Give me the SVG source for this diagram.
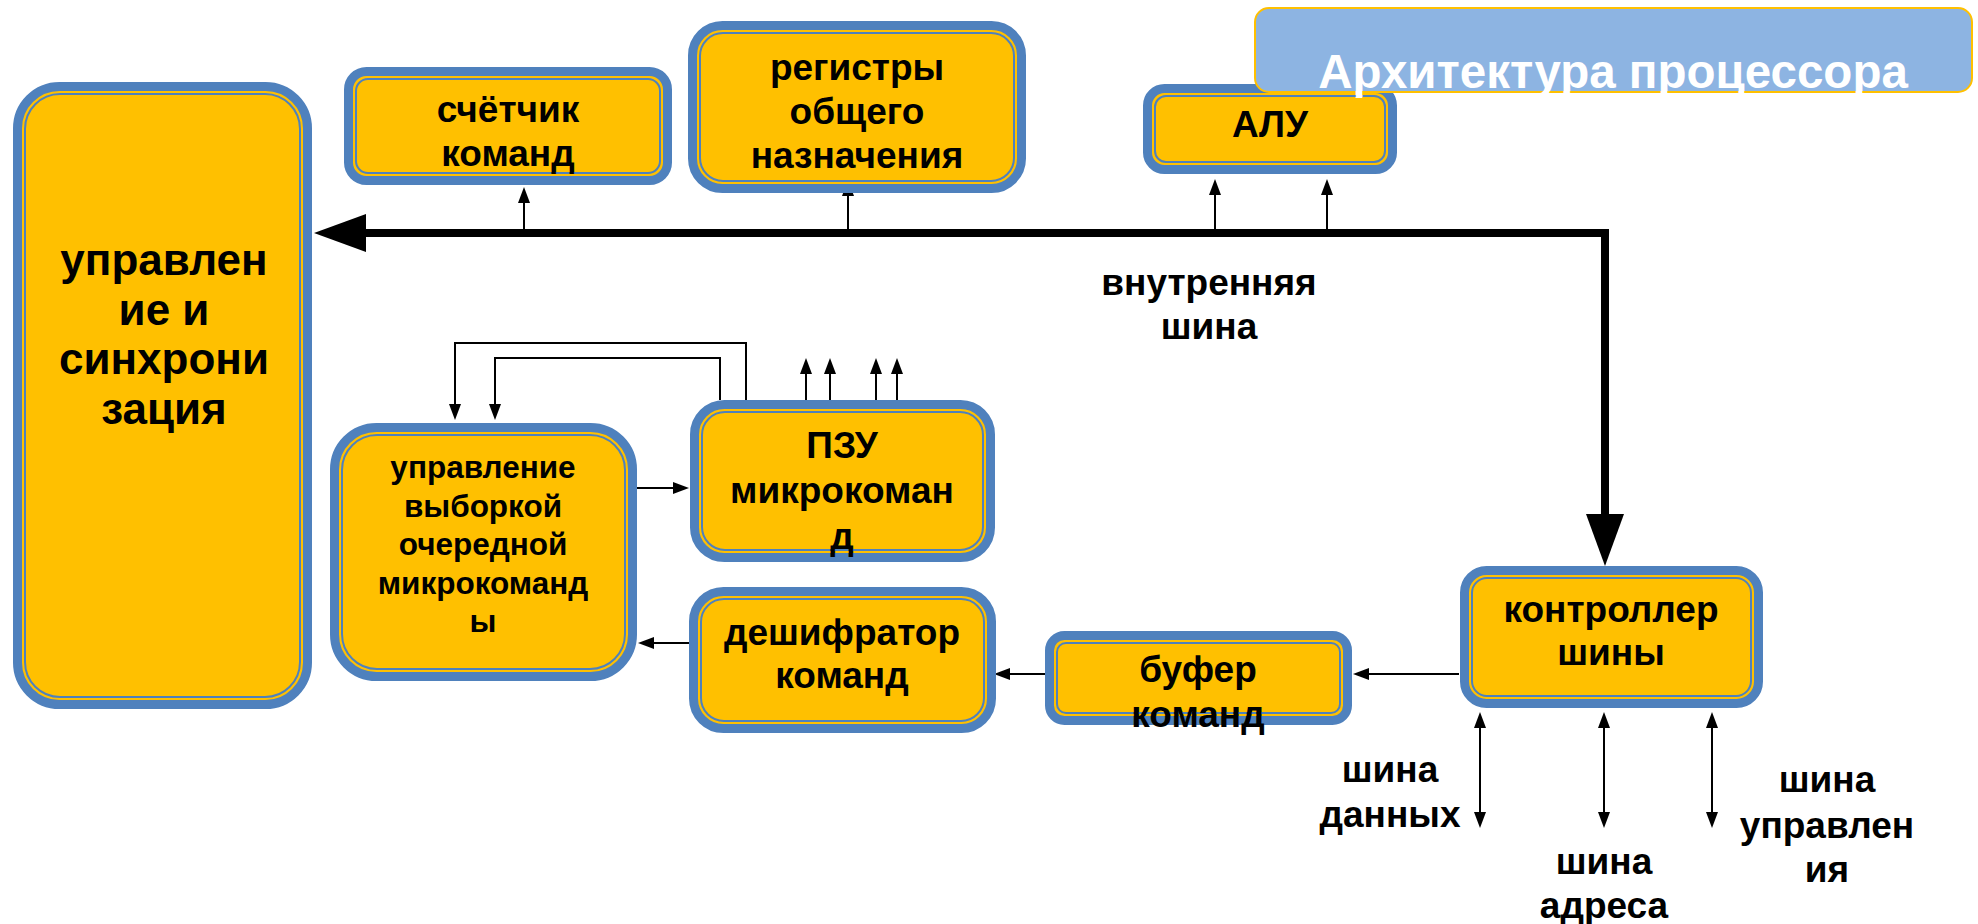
<svg xmlns="http://www.w3.org/2000/svg" width="1978" height="924" viewBox="0 0 1978 924">
<style>
.outer{fill:#FFC000;stroke:#4F81BD;stroke-width:9}
.inner{fill:none;stroke:#4F81BD;stroke-width:2}
.t{font-family:"Liberation Sans",Arial,sans-serif;font-weight:bold;fill:#000;text-anchor:middle}
.t36{font-size:37px}
.t42{font-size:44px}
.t31{font-size:31.5px}
.title{font-family:"Liberation Sans",Arial,sans-serif;font-weight:bold;font-size:47.5px;fill:#FFFFFF;text-anchor:middle}
.bus{fill:none;stroke:#000;stroke-width:8;stroke-linejoin:miter}
.thin{fill:none;stroke:#000;stroke-width:2}
</style>
<defs>
<marker id="big" markerUnits="userSpaceOnUse" markerWidth="52" markerHeight="38" viewBox="0 0 52 38" refX="0" refY="19" orient="auto-start-reverse">
<path d="M0,0 L52,19 L0,38 z" fill="#000"/>
</marker>
<marker id="sm" markerUnits="userSpaceOnUse" markerWidth="16" markerHeight="12" viewBox="0 0 16 12" refX="0" refY="6" orient="auto-start-reverse">
<path d="M0,0 L16,6 L0,12 z" fill="#000"/>
</marker>
</defs>
<rect width="1978" height="924" fill="#FFFFFF"/>
<g id="connectors">
<path class="bus" d="M1605 514 V233 H366" marker-start="url(#big)" marker-end="url(#big)"/>
<path class="thin" d="M524 233 V203" marker-end="url(#sm)"/>
<path class="thin" d="M848 233 V196" marker-end="url(#sm)"/>
<path class="thin" d="M1215 233 V195" marker-end="url(#sm)"/>
<path class="thin" d="M1327 233 V195" marker-end="url(#sm)"/>
<path class="thin" d="M806 400 V374" marker-end="url(#sm)"/>
<path class="thin" d="M830 400 V374" marker-end="url(#sm)"/>
<path class="thin" d="M876 400 V374" marker-end="url(#sm)"/>
<path class="thin" d="M897 400 V374" marker-end="url(#sm)"/>
<path class="thin" d="M746 400 V343 H455 V404" marker-end="url(#sm)"/>
<path class="thin" d="M720 400 V358 H495 V404" marker-end="url(#sm)"/>
<path class="thin" d="M637 488 H673" marker-end="url(#sm)"/>
<path class="thin" d="M689 643 H654" marker-end="url(#sm)"/>
<path class="thin" d="M1045 674 H1010" marker-end="url(#sm)"/>
<path class="thin" d="M1459 674 H1369" marker-end="url(#sm)"/>
<path class="thin" d="M1480 728 V812" marker-start="url(#sm)" marker-end="url(#sm)"/>
<path class="thin" d="M1604 728 V812" marker-start="url(#sm)" marker-end="url(#sm)"/>
<path class="thin" d="M1712 728 V812" marker-start="url(#sm)" marker-end="url(#sm)"/>
</g>
<g id="node-sync">
<rect class="outer" x="17.5" y="86.5" width="290" height="618" rx="42"/>
<rect class="inner" x="25" y="94" width="275" height="603" rx="35"/>
<text class="t t42" x="164" y="275">управлен</text>
<text class="t t42" x="164" y="325">ие и</text>
<text class="t t42" x="164" y="374">синхрони</text>
<text class="t t42" x="164" y="424">зация</text>
</g>
<g id="node-counter">
<rect class="outer" x="348.5" y="71.5" width="319" height="109" rx="18"/>
<rect class="inner" x="356" y="79" width="304" height="94" rx="12"/>
<text class="t t36" x="508" y="122">счётчик</text>
<text class="t t36" x="508" y="166">команд</text>
</g>
<g id="node-registers">
<rect class="outer" x="692.5" y="25.5" width="329" height="163" rx="30"/>
<rect class="inner" x="700" y="33" width="314" height="148" rx="23"/>
<text class="t t36" x="857" y="80">регистры</text>
<text class="t t36" x="857" y="124">общего</text>
<text class="t t36" x="857" y="168">назначения</text>
</g>
<g id="node-alu">
<rect class="outer" x="1147.5" y="88.5" width="245" height="81" rx="17"/>
<rect class="inner" x="1155" y="96" width="230" height="66" rx="11"/>
<text class="t t36" x="1270" y="137">АЛУ</text>
</g>
<g id="title-box">
<rect x="1255" y="8" width="717" height="84" rx="14" fill="#8DB4E2" stroke="#FFC000" stroke-width="2"/>
<text class="title" x="1613" y="88">Архитектура процессора</text>
</g>
<g id="node-rom">
<rect class="outer" x="694.5" y="404.5" width="296" height="153" rx="30"/>
<rect class="inner" x="702" y="412" width="281" height="138" rx="23"/>
<text class="t t36" x="842" y="458">ПЗУ</text>
<text class="t t36" x="842" y="503">микрокоман</text>
<text class="t t36" x="842" y="549">д</text>
</g>
<g id="node-select">
<rect class="outer" x="334.5" y="427.5" width="298" height="249" rx="42"/>
<rect class="inner" x="342" y="435" width="283" height="234" rx="35"/>
<text class="t t31" x="483" y="478">управление</text>
<text class="t t31" x="483" y="517">выборкой</text>
<text class="t t31" x="483" y="555">очередной</text>
<text class="t t31" x="483" y="594">микрокоманд</text>
<text class="t t31" x="483" y="632">ы</text>
</g>
<g id="node-decoder">
<rect class="outer" x="693.5" y="591.5" width="298" height="137" rx="30"/>
<rect class="inner" x="701" y="599" width="283" height="122" rx="23"/>
<text class="t t36" x="842" y="645">дешифратор</text>
<text class="t t36" x="842" y="688">команд</text>
</g>
<g id="node-buffer">
<rect class="outer" x="1049.5" y="635.5" width="298" height="85" rx="15"/>
<rect class="inner" x="1057" y="643" width="283" height="70" rx="9"/>
<text class="t t36" x="1198" y="682">буфер</text>
<text class="t t36" x="1198" y="727">команд</text>
</g>
<g id="node-controller">
<rect class="outer" x="1464.5" y="570.5" width="294" height="133" rx="22"/>
<rect class="inner" x="1472" y="578" width="279" height="118" rx="15"/>
<text class="t t36" x="1611" y="622">контроллер</text>
<text class="t t36" x="1611" y="665">шины</text>
</g>
<g id="labels">
<text class="t t36" x="1209" y="295">внутренняя</text>
<text class="t t36" x="1209" y="339">шина</text>
<text class="t t36" x="1390" y="782">шина</text>
<text class="t t36" x="1390" y="827">данных</text>
<text class="t t36" x="1604" y="874">шина</text>
<text class="t t36" x="1604" y="918">адреса</text>
<text class="t t36" x="1827" y="792">шина</text>
<text class="t t36" x="1827" y="838">управлен</text>
<text class="t t36" x="1827" y="882">ия</text>
</g>
</svg>
